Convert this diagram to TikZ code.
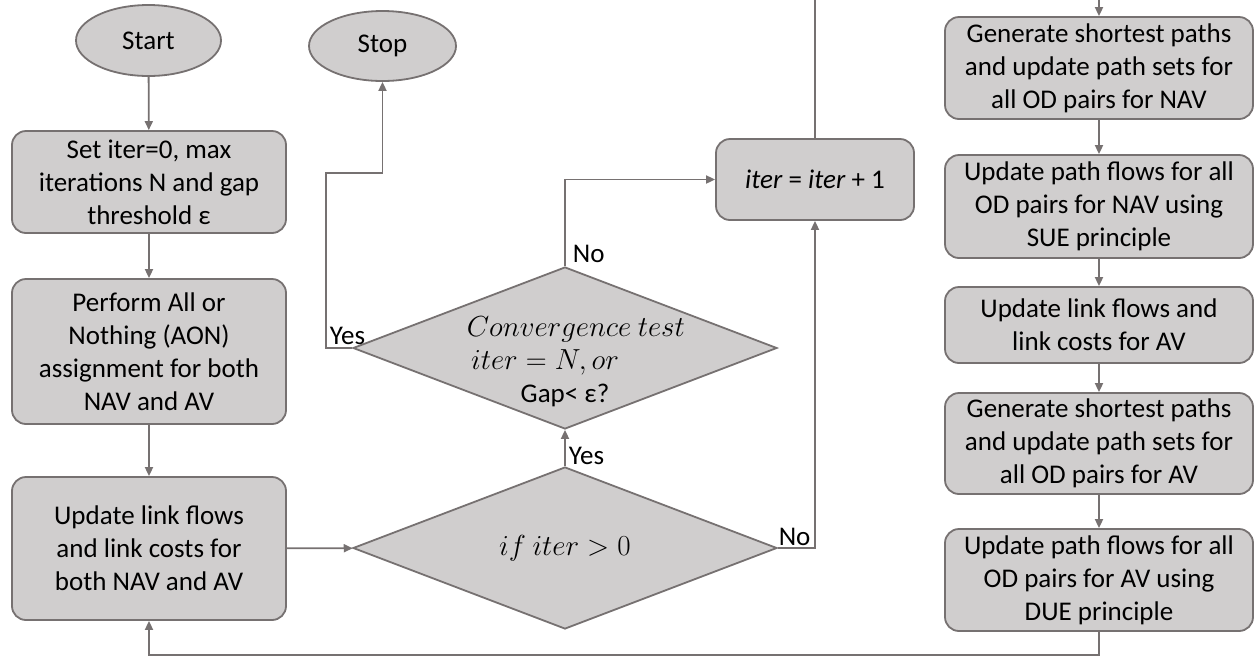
\documentclass[tikz,border=0pt]{standalone}
\usepackage{fix-cm}
\usepackage{fontspec}
\setmainfont{Carlito}
\usetikzlibrary{shapes.geometric,arrows.meta}
\definecolor{boxgray}{RGB}{208,206,206}
\definecolor{linegray}{RGB}{118,113,113}
\newcommand{\bigmath}[1]{{\fontsize{29}{33}\selectfont$#1$}}

\begin{document}
\begin{tikzpicture}[x=1pt,y=-1pt,line width=1.8pt,
  txt/.style={font=\fontsize{27}{33}\selectfont},
  box/.style={txt,draw=linegray,fill=boxgray,rounded corners=14pt,align=center,inner sep=0pt},
  oval/.style={txt,draw=linegray,fill=boxgray,ellipse,inner sep=0pt},
  test/.style={txt,draw=linegray,fill=boxgray,diamond,shape aspect=2.6,align=center,inner sep=-30pt,minimum width=424pt,minimum height=162pt},
  arr/.style={draw=linegray,-{Triangle[length=9pt,width=8pt]}},
  lbl/.style={txt,inner sep=1pt}]
\useasboundingbox (0,0) rectangle (1254,657);

% left column
\node [oval,minimum width=145pt,minimum height=71pt] (start) at (148.5,40.5) {Start};
\node [box,minimum width=274pt,minimum height=102pt] (init) at (149,182) {Set iter=0, max\\iterations N and gap\\threshold ε};
\node [box,minimum width=274pt,minimum height=145pt] (aon) at (149,351.5) {Perform All or\\Nothing (AON)\\assignment for both\\NAV and AV};
\node [box,minimum width=274pt,minimum height=143pt] (links) at (149,548.5) {Update link flows\\and link costs for\\both NAV and AV};

% middle column
\node [oval,minimum width=147pt,minimum height=70pt] (stop) at (382.5,46) {Stop};
\node [test] (conv) at (565,348) {\rule{22pt}{0pt}\rule{0pt}{47pt}\bigmath{Convergence\ test}\\\bigmath{iter = N, or}\rule{40pt}{0pt}\\Gap< ε?};
\node [test] (ifit) at (565,548) {\bigmath{if\ iter > 0}};
\node [box,minimum width=198pt,minimum height=81pt] (next) at (815,179.5) {\textit{iter} = \textit{iter} + 1};

% right column
\node [box,minimum width=308pt,minimum height=102pt] (navsp) at (1099,68) {Generate shortest paths\\and update path sets for\\all OD pairs for NAV};
\node [box,minimum width=308pt,minimum height=103pt] (navsue) at (1099,206.5) {Update path flows for all\\OD pairs for NAV using\\SUE principle};
\node [box,minimum width=308pt,minimum height=76pt] (avlinks) at (1099,325) {Update link flows and\\link costs for AV};
\node [box,minimum width=308pt,minimum height=101pt] (avsp) at (1099,443.5) {Generate shortest paths\\and update path sets for\\all OD pairs for AV};
\node [box,minimum width=308pt,minimum height=102pt] (avdue) at (1099,580) {Update path flows for all\\OD pairs for AV using\\DUE principle};

\coordinate (yesbend) at (326,173);
\coordinate (toptr) at (1099,-5);
\coordinate (bottom) at (149,655);

\draw [arr] (start) -- (init);
\draw [arr] (init) -- (aon);
\draw [arr] (aon) -- (links);
\draw [arr] (links) -- (ifit);
\draw [arr] (ifit) -- (conv);
\draw [arr] (ifit.east) -| (next.south);
\draw [arr] (conv.north) |- (next.west);
\draw [arr] (conv.west) -| (yesbend) -| (stop.south);
\draw [arr] (next.north) |- (toptr) -- (navsp.north);
\draw [arr] (navsp) -- (navsue);
\draw [arr] (navsue) -- (avlinks);
\draw [arr] (avlinks) -- (avsp);
\draw [arr] (avsp) -- (avdue);
\draw [arr] (avdue.south) |- (bottom) -- (links.south);

\node [lbl,anchor=south west] at ([xshift=2pt]ifit.north) {Yes};
\node [lbl,anchor=south west] at ([xshift=-1pt]ifit.east) {No};
\node [lbl,anchor=south west] at ([xshift=6pt,yshift=2pt]conv.north) {No};
\node [lbl,anchor=south west] at ([xshift=2pt,yshift=1pt]yesbend |- conv.west) {Yes};
\end{tikzpicture}
\end{document}
